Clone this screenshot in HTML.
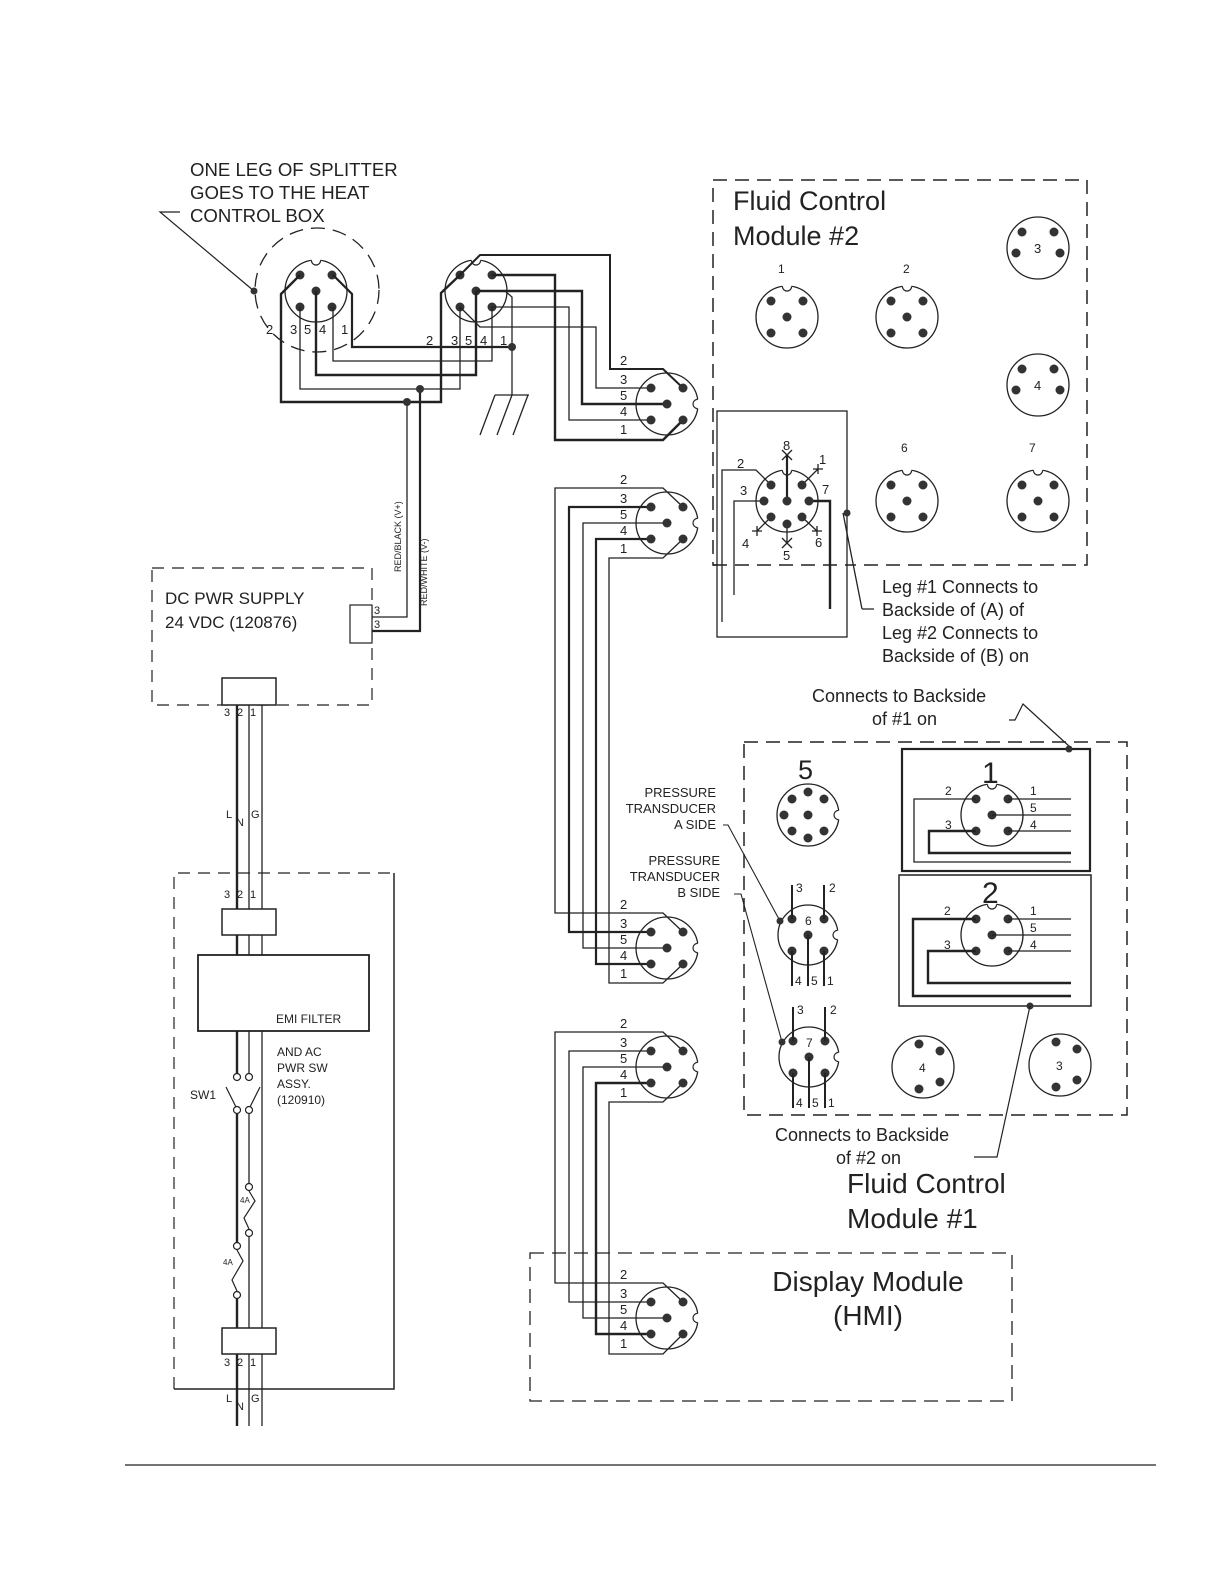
<!DOCTYPE html>
<html><head><meta charset="utf-8"><style>
html,body{margin:0;padding:0;background:#fff;}
svg{display:block;}
text{font-family:"Liberation Sans",Arial,sans-serif;fill:#222;}
</style></head><body>
<svg width="1224" height="1584" viewBox="0 0 1224 1584" xmlns="http://www.w3.org/2000/svg">
<defs>
<g id="nr"><circle cx="31" cy="0" r="4.6" fill="#fff"/><path d="M30.6 -4.6 A4.6 4.6 0 0 0 30.6 4.6" fill="none" stroke="#222" stroke-width="1.2"/></g>
<g id="nt"><circle cx="0" cy="-31" r="4.6" fill="#fff"/><path d="M-4.6 -30.6 A4.6 4.6 0 0 0 4.6 -30.6" fill="none" stroke="#222" stroke-width="1.2"/></g>
<g id="side5">
 <circle r="31" fill="none" stroke="#222" stroke-width="1.3"/>
 <use href="#nr"/>
 <circle cx="-16" cy="-16" r="4.5" fill="#333"/><circle cx="16" cy="-16" r="4.5" fill="#333"/>
 <circle cx="0" cy="0" r="4.5" fill="#333"/>
 <circle cx="-16" cy="16" r="4.5" fill="#333"/><circle cx="16" cy="16" r="4.5" fill="#333"/>
</g>
<g id="top5">
 <circle r="31" fill="none" stroke="#222" stroke-width="1.3"/>
 <use href="#nt"/>
 <circle cx="-16" cy="-16" r="4.5" fill="#333"/><circle cx="16" cy="-16" r="4.5" fill="#333"/>
 <circle cx="0" cy="0" r="4.5" fill="#333"/>
 <circle cx="-16" cy="16" r="4.5" fill="#333"/><circle cx="16" cy="16" r="4.5" fill="#333"/>
</g>
<g id="four">
 <circle r="31" fill="none" stroke="#222" stroke-width="1.3"/>
 <circle cx="-16" cy="-16" r="4.5" fill="#333"/><circle cx="16" cy="-16" r="4.5" fill="#333"/>
 <circle cx="-22" cy="5" r="4.5" fill="#333"/><circle cx="22" cy="5" r="4.5" fill="#333"/>
</g>
<g id="four2">
 <circle r="31" fill="none" stroke="#222" stroke-width="1.3"/>
 <circle cx="-4" cy="-23" r="4.5" fill="#333"/><circle cx="17" cy="-16" r="4.5" fill="#333"/>
 <circle cx="-4" cy="22" r="4.5" fill="#333"/><circle cx="17" cy="15" r="4.5" fill="#333"/>
</g>
<g id="side3">
 <circle r="30" fill="none" stroke="#222" stroke-width="1.3"/>
 <g transform="translate(-1,0)"><use href="#nr"/></g>
 <circle cx="-16" cy="-16" r="4.5" fill="#333"/><circle cx="16" cy="-16" r="4.5" fill="#333"/>
 <circle cx="0" cy="0" r="4.5" fill="#333"/>
 <circle cx="-16" cy="16" r="4.5" fill="#333"/><circle cx="16" cy="16" r="4.5" fill="#333"/>
</g>
</defs>

<!-- TOP TEXT -->
<g font-size="18.6">
<text x="190" y="176">ONE LEG OF SPLITTER</text>
<text x="190" y="199">GOES TO THE HEAT</text>
<text x="190" y="222">CONTROL BOX</text>
</g>
<path d="M180 212 H160 L254 291" fill="none" stroke="#222" stroke-width="1.2"/>
<circle cx="254" cy="291" r="3.5" fill="#333"/>
<circle cx="317" cy="290" r="62" fill="none" stroke="#222" stroke-width="1.3" stroke-dasharray="14,8"/>

<!-- SPLITTER -->
<use href="#top5" x="316" y="291"/>
<use href="#top5" x="476" y="291"/>
<g fill="none" stroke="#222">
<path d="M300 275 L281 294 V402 H441 V293 L460 275" stroke-width="2.4"/>
<path d="M300 307 V389 H460 V307" stroke-width="1.3"/>
<path d="M316 291 V375 H476 V291" stroke-width="2.4"/>
<path d="M333 307 V361 H492 V307" stroke-width="1.3"/>
<path d="M333 275 L352 294 V347 H512" stroke-width="2.2"/>
<path d="M505 291 L512 297 V395" stroke-width="1.3"/>
<path d="M495 395 H529 M495 395 L480 435 M512 395 L497 435 M528 395 L513 435" stroke-width="1.3"/>
<path d="M460 275 L480 255 H610 V369 H663 L683 388" stroke-width="2"/>
<path d="M492 275 H555 V440 H663 L683 420" stroke-width="2.4"/>
<path d="M476 291 H582 V404 H667" stroke-width="2.4"/>
<path d="M492 307 H569 V420 H651" stroke-width="1.3"/>
<path d="M460 307 L480 327 H596 V388 H651" stroke-width="1.3"/>
<path d="M407 402 V617 H372" stroke-width="1.3"/>
<path d="M420 389 V631 H372" stroke-width="2.2"/>
</g>
<circle cx="512" cy="347" r="4" fill="#333"/>
<circle cx="420" cy="389" r="4" fill="#333"/>
<circle cx="407" cy="402" r="4" fill="#333"/>
<g font-size="13">
<text x="266" y="334">2</text><text x="290" y="334">3</text><text x="304" y="334">5</text><text x="319" y="334">4</text><text x="341" y="334">1</text>
<text x="426" y="345">2</text><text x="451" y="345">3</text><text x="465" y="345">5</text><text x="480" y="345">4</text><text x="500" y="345">1</text>
</g>
<text font-size="9" transform="translate(401,572) rotate(-90)">RED/BLACK (V+)</text>
<text font-size="9" transform="translate(427,606) rotate(-90)">RED/WHITE (V-)</text>

<!-- DC PWR SUPPLY -->
<rect x="152" y="568" width="220" height="137" fill="none" stroke="#222" stroke-width="1.2" stroke-dasharray="12,8"/>
<text x="165" y="604" font-size="17">DC PWR SUPPLY</text>
<text x="165" y="628" font-size="17">24 VDC (120876)</text>
<rect x="350" y="605" width="22" height="38" fill="#fff" stroke="#222" stroke-width="1.2"/>
<text x="374" y="614" font-size="11">3</text><text x="374" y="628" font-size="11">3</text>
<rect x="222" y="678" width="54" height="27" fill="#fff" stroke="#222" stroke-width="1.5"/>

<!-- AC lines -->
<g stroke="#222" fill="none">
<path d="M237 705 V909 M237 935 V955 M237 1031 V1073 M237 1114 V1242 M237 1299 V1328 M237 1354 V1426" stroke-width="2.4"/>
<path d="M249 705 V909 M249 935 V955 M249 1031 V1073 M249 1114 V1183 M249 1237 V1328 M249 1354 V1426" stroke-width="1.3"/>
<path d="M262 705 V909 M262 935 V955 M262 1031 V1328 M262 1354 V1426" stroke-width="1.3"/>
</g>
<g font-size="11">
<text x="224" y="716">3</text><text x="237" y="716">2</text><text x="250" y="716">1</text>
<text x="226" y="818">L</text><text x="236" y="826">N</text><text x="251" y="818">G</text>
<text x="224" y="898">3</text><text x="237" y="898">2</text><text x="250" y="898">1</text>
<text x="224" y="1366">3</text><text x="237" y="1366">2</text><text x="250" y="1366">1</text>
<text x="226" y="1402">L</text><text x="236" y="1410">N</text><text x="251" y="1402">G</text>
</g>
<path d="M394 873 V1389 H174" fill="none" stroke="#222" stroke-width="1.5"/>
<path d="M174 1389 V873 H394" fill="none" stroke="#222" stroke-width="1.2" stroke-dasharray="12,8"/>
<rect x="222" y="909" width="54" height="26" fill="#fff" stroke="#222" stroke-width="1.5"/>
<rect x="198" y="955" width="171" height="76" fill="#fff" stroke="#222" stroke-width="1.8"/>
<text x="276" y="1023" font-size="12">EMI FILTER</text>
<g font-size="12"><text x="277" y="1056">AND AC</text><text x="277" y="1072">PWR SW</text><text x="277" y="1088">ASSY.</text><text x="277" y="1104">(120910)</text></g>
<text x="190" y="1099" font-size="12">SW1</text>
<g fill="#fff" stroke="#222" stroke-width="1.2">
<circle cx="237" cy="1077" r="3.5"/><circle cx="249" cy="1077" r="3.5"/>
<circle cx="237" cy="1110" r="3.5"/><circle cx="249" cy="1110" r="3.5"/>
<circle cx="249" cy="1187" r="3.5"/><circle cx="249" cy="1233" r="3.5"/>
<circle cx="237" cy="1246" r="3.5"/><circle cx="237" cy="1295" r="3.5"/>
</g>
<g fill="none" stroke="#222" stroke-width="1.2">
<path d="M226 1087 L236 1107 M260 1087 L250 1107"/>
<path d="M249 1191 L255 1201 L244 1218 L249 1229"/>
<path d="M237 1250 L243 1261 L232 1280 L237 1291"/>
</g>
<text x="240" y="1203" font-size="8">4A</text>
<text x="223" y="1265" font-size="8">4A</text>
<rect x="222" y="1328" width="54" height="26" fill="#fff" stroke="#222" stroke-width="1.5"/>

<!-- SIDE CONNECTORS + cable runs -->
<g fill="none" stroke="#222">
<path d="M683 507 L663 488 H555 V913 H663 L683 932" stroke-width="1.3"/>
<path d="M651 507 H569 V932 H651" stroke-width="2.2"/>
<path d="M667 523 H583 V948 H667" stroke-width="1.3"/>
<path d="M651 539 H596 V964 H651" stroke-width="2.2"/>
<path d="M683 539 L663 558 H609 V983 H663 L683 964" stroke-width="1.3"/>
<path d="M683 1051 L663 1032 H555 V1283 H663 L683 1302" stroke-width="1.3"/>
<path d="M651 1051 H569 V1302 H651" stroke-width="1.3"/>
<path d="M667 1067 H583 V1318 H667" stroke-width="1.3"/>
<path d="M651 1083 H596 V1334 H651" stroke-width="2.4"/>
<path d="M683 1083 L663 1102 H609 V1354 H663 L683 1334" stroke-width="1.3"/>
</g>
<use href="#side5" x="667" y="404"/>
<use href="#side5" x="667" y="523"/>
<use href="#side5" x="667" y="948"/>
<use href="#side5" x="667" y="1067"/>
<use href="#side5" x="667" y="1318"/>
<g font-size="13">
<text x="620" y="365">2</text><text x="620" y="384">3</text><text x="620" y="400">5</text><text x="620" y="416">4</text><text x="620" y="434">1</text>
<text x="620" y="484">2</text><text x="620" y="503">3</text><text x="620" y="519">5</text><text x="620" y="535">4</text><text x="620" y="553">1</text>
<text x="620" y="909">2</text><text x="620" y="928">3</text><text x="620" y="944">5</text><text x="620" y="960">4</text><text x="620" y="978">1</text>
<text x="620" y="1028">2</text><text x="620" y="1047">3</text><text x="620" y="1063">5</text><text x="620" y="1079">4</text><text x="620" y="1097">1</text>
<text x="620" y="1279">2</text><text x="620" y="1298">3</text><text x="620" y="1314">5</text><text x="620" y="1330">4</text><text x="620" y="1348">1</text>
</g>

<!-- FLUID CONTROL MODULE #2 -->
<rect x="713" y="180" width="374" height="385" fill="none" stroke="#222" stroke-width="1.5" stroke-dasharray="14,8"/>
<text x="733" y="210" font-size="27">Fluid Control</text>
<text x="733" y="245" font-size="27">Module #2</text>
<g font-size="12">
<text x="778" y="273">1</text><text x="903" y="273">2</text>
<text x="901" y="452">6</text><text x="1029" y="452">7</text>
</g>
<use href="#top5" x="787" y="317"/>
<use href="#top5" x="907" y="317"/>
<use href="#four" x="1038" y="248"/>
<use href="#four" x="1038" y="385"/>
<use href="#top5" x="907" y="501"/>
<use href="#top5" x="1038" y="501"/>
<g font-size="13"><text x="1034" y="253">3</text><text x="1034" y="390">4</text></g>
<rect x="717" y="411" width="130" height="226" fill="#fff" stroke="#222" stroke-width="1.3"/>
<path d="M713 565 H847" stroke="#222" stroke-width="1.5" stroke-dasharray="14,8"/>
<circle cx="787" cy="501" r="31" fill="none" stroke="#222" stroke-width="1.3"/>
<use href="#nt" x="787" y="501"/>
<g fill="none" stroke="#222" stroke-width="1.3">
<path d="M787 501 V455" stroke-width="2.2"/>
<path d="M782 450 L792 460 M792 450 L782 460"/>
<path d="M802 485 L818 469 M813 469 H823 M818 464 V474"/>
<path d="M771 485 L756 470 H722 V622"/>
<path d="M764 501 H734 V595"/>
<path d="M809 501 H830 V609" stroke-width="2.4"/>
<path d="M771 517 L757 531 M752 531 H762 M757 526 V536"/>
<path d="M787 524 V543 M782 538 L792 548 M792 538 L782 548"/>
<path d="M802 517 L817 531 M812 531 H822 M817 526 V536"/>
<path d="M862 609 H874 M862 609 L843 513"/>
</g>
<g fill="#333">
<circle cx="771" cy="485" r="4.5"/><circle cx="802" cy="485" r="4.5"/>
<circle cx="764" cy="501" r="4.5"/><circle cx="809" cy="501" r="4.5"/><circle cx="787" cy="501" r="4.5"/>
<circle cx="771" cy="517" r="4.5"/><circle cx="802" cy="517" r="4.5"/><circle cx="787" cy="524" r="4.5"/>
<circle cx="847" cy="513" r="3.5"/>
</g>
<g font-size="13">
<text x="783" y="450">8</text><text x="819" y="464">1</text><text x="737" y="468">2</text>
<text x="740" y="495">3</text><text x="822" y="494">7</text><text x="742" y="548">4</text>
<text x="783" y="560">5</text><text x="815" y="547">6</text>
</g>
<g font-size="18">
<text x="882" y="593">Leg #1 Connects to</text>
<text x="882" y="616">Backside of (A) of</text>
<text x="882" y="639">Leg #2 Connects to</text>
<text x="882" y="662">Backside of (B) on</text>
<text x="812" y="702">Connects to Backside</text>
<text x="872" y="725">of #1 on</text>
</g>
<path d="M1009 720 H1015 L1023 704 L1070 747" fill="none" stroke="#222" stroke-width="1.2"/>

<!-- FLUID CONTROL MODULE #1 -->
<rect x="744" y="742" width="383" height="373" fill="none" stroke="#222" stroke-width="1.5" stroke-dasharray="14,8"/>
<text x="798" y="779" font-size="27">5</text>
<circle cx="808" cy="815" r="31" fill="none" stroke="#222" stroke-width="1.3"/>
<use href="#nr" x="808" y="815"/>
<g fill="#333">
<circle cx="792" cy="799" r="4.5"/><circle cx="808" cy="792" r="4.5"/><circle cx="824" cy="799" r="4.5"/>
<circle cx="784" cy="815" r="4.5"/><circle cx="808" cy="815" r="4.5"/>
<circle cx="792" cy="831" r="4.5"/><circle cx="808" cy="838" r="4.5"/><circle cx="824" cy="831" r="4.5"/>
</g>
<rect x="902" y="749" width="188" height="122" fill="#fff" stroke="#222" stroke-width="2.2"/>
<rect x="899" y="875" width="192" height="131" fill="#fff" stroke="#222" stroke-width="1.5"/>
<use href="#top5" x="992" y="815"/>
<use href="#top5" x="992" y="935"/>
<text x="982" y="783" font-size="30">1</text>
<text x="982" y="903" font-size="30">2</text>
<g fill="none" stroke="#222">
<path d="M976 799 H914 V862 H1071" stroke-width="1.3"/>
<path d="M976 831 H929 V853 H1071" stroke-width="2.4"/>
<path d="M1008 799 H1071 M992 815 H1071 M1008 831 H1071" stroke-width="1.3"/>
<path d="M976 919 H913 V996 H1071" stroke-width="2.4"/>
<path d="M976 951 H928 V983 H1071" stroke-width="2.4"/>
<path d="M1008 919 H1071 M992 935 H1071 M1008 951 H1071" stroke-width="1.3"/>
</g>
<g font-size="12">
<text x="945" y="795">2</text><text x="1030" y="795">1</text><text x="1030" y="812">5</text><text x="945" y="829">3</text><text x="1030" y="829">4</text>
<text x="944" y="915">2</text><text x="1030" y="915">1</text><text x="1030" y="932">5</text><text x="944" y="949">3</text><text x="1030" y="949">4</text>
</g>
<circle cx="1069" cy="749" r="3.5" fill="#333"/>
<circle cx="1030" cy="1006" r="3.5" fill="#333"/>
<use href="#side3" x="808" y="935"/>
<use href="#side3" x="809" y="1057"/>
<g fill="none" stroke="#222" stroke-width="2">
<path d="M792 919 V885 M824 919 V885 M792 951 V986 M808 935 V986 M824 951 V986"/>
<path d="M793 1041 V1007 M825 1041 V1007 M793 1073 V1108 M809 1057 V1108 M825 1073 V1108"/>
</g>
<g font-size="12">
<text x="796" y="892">3</text><text x="829" y="892">2</text><text x="795" y="985">4</text><text x="811" y="985">5</text><text x="827" y="985">1</text>
<text x="805" y="925">6</text>
<text x="797" y="1014">3</text><text x="830" y="1014">2</text><text x="796" y="1107">4</text><text x="812" y="1107">5</text><text x="828" y="1107">1</text>
<text x="806" y="1047">7</text>
</g>
<g font-size="13" text-anchor="end">
<text x="716" y="797">PRESSURE</text><text x="716" y="813">TRANSDUCER</text><text x="716" y="829">A SIDE</text>
<text x="720" y="865">PRESSURE</text><text x="720" y="881">TRANSDUCER</text><text x="720" y="897">B SIDE</text>
</g>
<path d="M723 825 H728 L780 921 M734 894 H741 L782 1042" fill="none" stroke="#222" stroke-width="1.1"/>
<circle cx="780" cy="921" r="3.5" fill="#333"/><circle cx="782" cy="1042" r="3.5" fill="#333"/>
<use href="#four2" x="923" y="1067"/>
<use href="#four2" x="1060" y="1065"/>
<g font-size="12"><text x="919" y="1072">4</text><text x="1056" y="1070">3</text></g>
<g font-size="18"><text x="775" y="1141">Connects to Backside</text><text x="836" y="1164">of #2 on</text></g>
<path d="M974 1157 H997 L1030 1006" fill="none" stroke="#222" stroke-width="1.2"/>
<text x="847" y="1193" font-size="28">Fluid Control</text>
<text x="847" y="1228" font-size="28">Module #1</text>

<!-- DISPLAY MODULE -->
<rect x="530" y="1253" width="482" height="148" fill="none" stroke="#222" stroke-width="1.3" stroke-dasharray="14,8"/>
<text x="868" y="1291" font-size="28" text-anchor="middle">Display Module</text>
<text x="868" y="1325" font-size="28" text-anchor="middle">(HMI)</text>

<path d="M125 1465 H1156" stroke="#222" stroke-width="1.2"/>
</svg>
</body></html>
